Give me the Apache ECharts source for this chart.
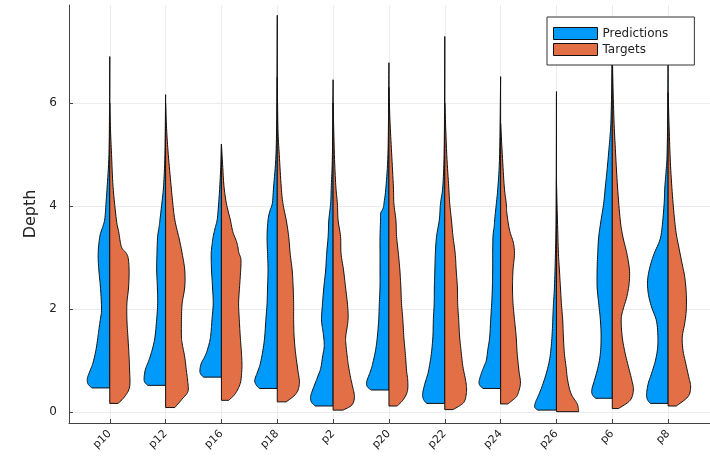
<!DOCTYPE html>
<html>
<head>
<meta charset="utf-8">
<script src="https://cdn.jsdelivr.net/npm/echarts@6/dist/echarts.min.js"></script>
<style>
  html, body { margin: 0; padding: 0; background: #fff; }
  #chart { width: 710px; height: 460px; }
</style>
</head>
<body>
<div id="chart"></div>
<script>
// Sites shown along the x axis
const categories = ['p10', 'p12', 'p16', 'p18', 'p2', 'p20', 'p22', 'p24', 'p26', 'p6', 'p8'];
const yTicks = [0, 2, 4, 6];

// Kernel density profiles, one per site: [depth, relative density]
// First pair is the minimum depth, last pair the maximum depth.
const predictionProfiles = [
  /* p10 */ [[0.47,18],[0.55,22],[0.66,22.5],[0.8,20],[0.95,17],[1.2,14],[1.45,12],[1.6,11],[1.8,9.5],[2.0,8.3],[2.4,9.3],[2.76,11],[3.08,11.7],[3.41,10],[3.6,7],[3.75,5],[4.05,3.8],[4.35,2.7],[5.0,0.8],[6.0,0.2],[6.9,0]],
  /* p12 */ [[0.52,18],[0.58,21],[0.66,21.7],[0.82,20.5],[0.95,18],[1.07,15.7],[1.25,13],[1.46,10.7],[1.8,9],[2.11,8],[2.43,8.3],[2.76,9],[3.08,8.7],[3.41,8],[3.6,6.5],[3.73,5.7],[4.1,3.5],[4.4,2],[5.0,0.7],[6.16,0]],
  /* p16 */ [[0.68,18],[0.74,21],[0.82,21.7],[0.95,20.3],[1.07,17],[1.2,14.3],[1.4,11.5],[1.59,10.3],[1.8,9.5],[2.11,8.3],[2.43,9],[2.76,10],[3.08,10.3],[3.27,9.3],[3.41,8.3],[3.6,6],[3.73,4.3],[4.0,3],[4.37,1.7],[4.8,0.6],[5.2,0]],
  /* p18 */ [[0.46,18],[0.52,21],[0.62,22.7],[0.8,19.5],[0.95,17],[1.2,14.5],[1.46,12.7],[1.8,11.5],[2.11,10.3],[2.43,9.8],[2.76,9.3],[3.08,9.8],[3.41,10.3],[3.73,9.3],[3.9,7.5],[4.05,5],[4.37,3.7],[5.0,1.3],[6.0,0.4],[7.7,0]],
  /* p2  */ [[0.12,18],[0.2,22],[0.32,22.5],[0.5,19.3],[0.68,15.7],[0.85,12.5],[1.07,10.7],[1.27,9],[1.46,9.5],[1.6,10.5],[1.8,11.7],[2.11,10.7],[2.43,9.3],[2.76,7.5],[3.08,6.5],[3.41,5],[3.73,4.3],[4.05,2.5],[4.4,1.8],[5.0,0.7],[6.45,0]],
  /* p20 */ [[0.43,18],[0.5,22],[0.6,22.3],[0.8,18.5],[0.95,16.3],[1.2,13.5],[1.46,11.7],[1.8,10.3],[2.11,9.7],[2.43,9],[2.76,9],[3.08,9],[3.41,9],[3.7,8.5],[3.86,8.3],[3.95,6],[4.05,5],[4.37,3],[5.0,1],[6.0,0.3],[6.78,0]],
  /* p22 */ [[0.17,18.3],[0.25,21.5],[0.36,22.3],[0.56,20],[0.75,17],[0.95,15],[1.14,13.5],[1.46,12],[1.8,11.5],[2.11,10.7],[2.43,10.5],[2.76,10],[3.08,9.5],[3.41,8.3],[3.73,5.5],[4.05,4.3],[4.37,2],[5.0,0.7],[6.0,0.2],[7.29,0]],
  /* p24 */ [[0.46,17.7],[0.52,21],[0.6,21.7],[0.75,19.5],[0.9,16.5],[1.01,14.3],[1.2,13],[1.46,11],[1.8,10],[2.11,9],[2.43,8.3],[2.76,8],[3.08,8],[3.41,7.7],[3.6,6.5],[3.73,6],[4.05,4.3],[4.37,2.7],[5.0,1],[6.51,0]],
  /* p26 */ [[0.04,19],[0.1,22],[0.2,21],[0.3,18.7],[0.49,14.7],[0.75,10.3],[1.01,7],[1.27,5.3],[1.53,4.3],[1.79,3.7],[2.11,3],[2.43,2],[3.08,1],[3.73,0.4],[5.0,0.1],[6.22,0]],
  /* p6  */ [[0.27,17],[0.35,20.3],[0.45,20.5],[0.62,18],[0.88,14.3],[1.14,12],[1.46,11.3],[1.79,12],[2.11,13.7],[2.43,15.3],[2.76,15.3],[3.08,14.7],[3.4,13.7],[3.73,11.3],[4.05,8.7],[4.37,7],[4.69,5.3],[5.03,3.7],[5.35,2.3],[5.67,1.3],[6.5,0.4],[7.5,0]],
  /* p8  */ [[0.17,18],[0.25,21],[0.36,21.7],[0.56,20],[0.75,16.7],[1.01,12.7],[1.27,10.5],[1.55,10.5],[1.79,12],[2.04,16.7],[2.3,20],[2.56,20.7],[2.82,18.3],[3.08,14],[3.34,8.3],[3.6,6],[4.05,4],[4.37,3.3],[4.69,2],[5.03,1],[6.0,0.3],[7.5,0]]
];

const targetProfiles = [
  /* p10 */ [[0.17,8.3],[0.3,15],[0.49,20],[0.82,20],[1.14,19.3],[1.46,18.3],[1.79,17.3],[2.11,17.3],[2.43,19],[2.76,19.5],[3.0,18.5],[3.1,16],[3.21,11.7],[3.5,9],[3.73,6.7],[4.38,3.3],[5.0,1.8],[5.5,0.7],[6.0,0]],
  /* p12 */ [[0.09,9.3],[0.24,16],[0.4,22.5],[0.6,22.3],[0.8,21],[1.07,19.3],[1.3,17],[1.46,16],[1.8,16],[2.11,16.7],[2.43,19.3],[2.76,19.3],[3.08,16.7],[3.34,14],[3.73,9.3],[4.1,7],[4.4,5.5],[5.0,2.7],[5.5,1],[6.0,0]],
  /* p16 */ [[0.23,7.3],[0.36,14],[0.56,19],[0.8,20.5],[0.95,20.7],[1.2,20],[1.46,19],[1.8,18],[2.11,17.3],[2.43,18.3],[2.63,19],[2.95,19.7],[3.1,17.5],[3.28,15.7],[3.5,11.5],[3.73,9],[4.05,5],[4.4,2.5],[4.8,1.2],[5.2,0]],
  /* p18 */ [[0.2,9],[0.36,19],[0.56,22.3],[0.82,20.7],[1.14,18.5],[1.46,17],[1.8,16.5],[2.11,16.5],[2.43,16],[2.76,15],[3.08,13],[3.41,11.5],[3.73,9],[4.05,5.7],[4.37,4],[5.0,2],[5.5,0.7],[6.5,0]],
  /* p2  */ [[0.04,10],[0.14,19],[0.3,21.5],[0.49,19.7],[0.68,17.5],[0.9,15.5],[1.07,14.3],[1.3,13],[1.46,12.7],[1.78,15],[2.05,14.7],[2.43,12.5],[2.76,10.5],[3.08,8],[3.41,7.5],[3.73,5],[4.05,4.3],[4.4,2.7],[5.0,1.3],[6.0,0]],
  /* p20 */ [[0.12,8.3],[0.24,14.3],[0.4,18.5],[0.6,19],[0.82,17.7],[1.14,16.5],[1.46,15],[1.8,14],[2.11,12.7],[2.43,12],[2.76,11],[3.08,9.5],[3.41,7.7],[3.73,7],[4.05,5],[4.37,4.5],[5.03,2.7],[5.67,1],[6.3,0]],
  /* p22 */ [[0.05,8.3],[0.15,17],[0.24,20.5],[0.43,22],[0.62,21],[0.88,18.3],[1.14,16.7],[1.46,15],[1.8,14],[2.11,13],[2.43,12.7],[2.76,11.5],[3.08,10.5],[3.41,8.3],[3.73,6.7],[4.05,5],[4.37,4],[5.0,2],[6.0,0]],
  /* p24 */ [[0.16,7.3],[0.28,15],[0.36,17.5],[0.56,20],[0.8,18.5],[1.14,16.7],[1.46,15.7],[1.8,14],[2.11,12.5],[2.43,12],[2.76,12.5],[3.08,14],[3.3,12.7],[3.53,9],[3.86,6.3],[4.05,5.7],[4.37,3.7],[5.0,1.7],[5.6,0]],
  /* p26 */ [[0.01,22.5],[0.08,22],[0.17,20.7],[0.36,14.7],[0.62,11.3],[0.88,9.7],[1.14,8],[1.46,7],[1.79,6.3],[2.11,5],[2.43,4],[2.76,3],[3.08,2],[3.73,1],[4.5,0]],
  /* p6  */ [[0.07,6.3],[0.23,18],[0.43,21.3],[0.62,19.7],[0.88,16.3],[1.14,13],[1.46,10],[1.8,9],[2.0,11],[2.24,14.7],[2.5,17],[2.76,17.3],[3.08,14.7],[3.4,10.7],[3.73,8],[4.37,5.3],[5.03,3.3],[5.67,1.7],[6.5,0.5],[7.2,0]],
  /* p8  */ [[0.12,8.3],[0.3,20],[0.49,22.7],[0.69,20.7],[0.95,17.7],[1.2,15],[1.46,14.3],[1.72,16.7],[1.98,18.3],[2.3,18.3],[2.63,16.7],[2.89,14],[3.21,10.7],[3.53,7.7],[4.05,5],[4.69,2.7],[5.35,1.3],[6.2,0]]
];

// Relative density -> half-width in category units
const DENSITY_TO_X = 1 / 56.3;
const BLUE = '#009AFA';
const ORANGE = '#E36F47';

// Smooth an outline through the given pixel points (Catmull-Rom sampling)
function smoothOutline(pts, steps) {
  const out = [pts[0]];
  for (let i = 0; i < pts.length - 1; i++) {
    const p0 = pts[i - 1] || pts[i], p1 = pts[i], p2 = pts[i + 1], p3 = pts[i + 2] || pts[i + 1];
    for (let s = 1; s <= steps; s++) {
      const t = s / steps, t2 = t * t, t3 = t2 * t;
      const f = (a, b, c, d) => 0.5 * ((2 * b) + (-a + c) * t + (2 * a - 5 * b + 4 * c - d) * t2 + (-a + 3 * b - 3 * c + d) * t3);
      out.push([f(p0[0], p1[0], p2[0], p3[0]), f(p0[1], p1[1], p2[1], p3[1])]);
    }
  }
  return out;
}

function halfViolin(profiles, side, color) {
  return function (params, api) {
    const idx = api.value(0);
    const prof = profiles[idx];
    const edge = prof.map(([d, w]) => api.coord([idx + side * w * DENSITY_TO_X, d]));
    const bottom = api.coord([idx, prof[0][0]]);
    const top = api.coord([idx, prof[prof.length - 1][0]]);
    const points = [bottom].concat(smoothOutline(edge, 8), [top]);
    return {
      type: 'polygon',
      shape: { points: points },
      style: { fill: color, stroke: '#111', lineWidth: 1, lineJoin: 'round' }
    };
  };
}

const seriesData = categories.map((c, i) => [i]);
const FONT = 'DejaVu Sans';

const chart = echarts.init(document.getElementById('chart'), null, { renderer: 'canvas' });
chart.setOption({
  animation: false,
  backgroundColor: '#fff',
  grid: { left: 69, top: 5, width: 647, height: 418, containLabel: false },
  legend: {
    left: 547, top: 17,
    orient: 'vertical',
    data: [{ name: 'Predictions', icon: 'rect' }, { name: 'Targets', icon: 'rect' }],
    itemWidth: 44, itemHeight: 12, itemGap: 3,
    padding: [10, 26, 9, 6],
    borderColor: '#333', borderWidth: 1, borderRadius: 0,
    backgroundColor: '#fff',
    itemStyle: { borderColor: '#111', borderWidth: 1 },
    textStyle: { fontFamily: FONT, fontSize: 12, color: '#222' },
    selectedMode: false
  },
  xAxis: {
    type: 'value',
    min: -0.73, max: 10.75,
    axisLine: { show: true, onZero: false, lineStyle: { color: '#444', width: 1 } },
    axisTick: { show: true, inside: true, length: 4, customValues: categories.map((c, i) => i), lineStyle: { color: '#444' } },
    axisLabel: {
      customValues: categories.map((c, i) => i),
      formatter: v => categories[Math.round(v)],
      rotate: 45, margin: 9,
      fontFamily: FONT, fontSize: 11, color: '#222'
    },
    splitLine: { show: true, lineStyle: { color: '#ececec', width: 1 } }
  },
  yAxis: {
    type: 'value',
    min: -0.21, max: 7.9,
    name: 'Depth',
    nameLocation: 'middle', nameGap: 28, nameRotate: 90,
    nameTextStyle: { fontFamily: FONT, fontSize: 16, color: '#222' },
    axisLine: { show: true, onZero: false, lineStyle: { color: '#444', width: 1 } },
    axisTick: { show: true, inside: true, length: 4, customValues: yTicks, lineStyle: { color: '#444' } },
    axisLabel: { customValues: yTicks, margin: 12, fontFamily: FONT, fontSize: 12, color: '#222' },
    splitLine: { show: true, lineStyle: { color: '#ececec', width: 1 } }
  },
  series: [
    {
      type: 'custom', name: 'Predictions',
      itemStyle: { color: BLUE },
      renderItem: halfViolin(predictionProfiles, -1, BLUE),
      data: seriesData, z: 2
    },
    {
      type: 'custom', name: 'Targets',
      itemStyle: { color: ORANGE },
      renderItem: halfViolin(targetProfiles, 1, ORANGE),
      data: seriesData, z: 3
    }
  ]
});
</script>
</body>
</html>
